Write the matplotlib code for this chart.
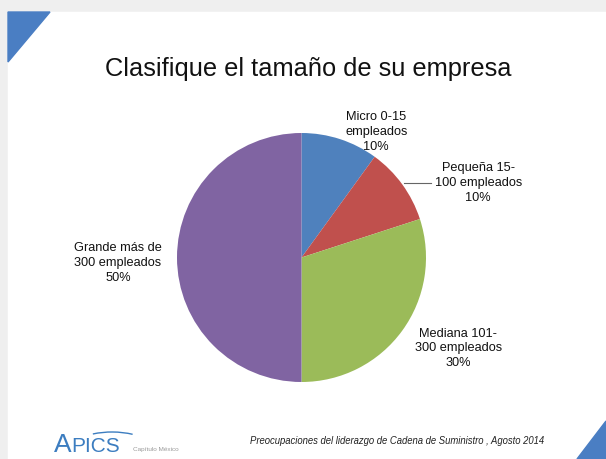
import numpy as np
import matplotlib
matplotlib.use('Agg')
from matplotlib import pyplot as plt
from matplotlib.patches import Polygon, Rectangle, Arc

# Datos del gráfico
categorias = ['Micro 0-15\nempleados', 'Pequeña 15-\n100 empleados',
              'Mediana 101-\n300 empleados', 'Grande más de\n300 empleados']
porcentajes = [10, 10, 30, 50]
colores = ['#4F81BD', '#C0504D', '#9BBB59', '#8064A2']
titulo = 'Clasifique el tamaño de su empresa'
pie_pagina = 'Preocupaciones del liderazgo de Cadena de Suministro , Agosto 2014'

W, H = 606, 459
plt.rcParams['font.family'] = ['Liberation Sans', 'DejaVu Sans']

fig = plt.figure(figsize=(W / 100, H / 100), dpi=100)
fig.patch.set_facecolor('#efefef')

# Fondo de la diapositiva en coordenadas de píxel
bg = fig.add_axes([0, 0, 1, 1])
bg.set_xlim(0, W)
bg.set_ylim(H, 0)
bg.axis('off')
bg.add_patch(Rectangle((8, 12), W - 8, H - 12, color='white', zorder=0))
bg.add_patch(Polygon([(8, 12), (50, 12), (8, 62)], color='#4A7EC3', zorder=1))
bg.add_patch(Polygon([(577, H), (W, 421), (W, H)], color='#4A7EC3', zorder=1))

bg.text(308, 69, titulo, ha='center', va='center', fontsize=18.3, color='#111111')

# Logo APICS y pie de página
bg.text(54, 452, 'A', ha='left', va='baseline', fontsize=19, color='#3C7DC0')
bg.text(71.5, 452, 'PICS', ha='left', va='baseline', fontsize=15, color='#3C7DC0')
bg.add_patch(Arc((112, 470), 120, 76, theta1=242, theta2=300, color='#3C7DC0', lw=1.0))
bg.text(133, 451, 'Capítulo México', ha='left', va='baseline', fontsize=4.6, color='#9a9a9a')
bg.text(397, 441, pie_pagina, ha='center', va='center', fontsize=6.85,
        style='italic', color='#222222')

# Gráfico circular
cx, cy, r = 301.5, 257.5, 124.5
ax = fig.add_axes([(cx - r) / W, (H - cy - r) / H, 2 * r / W, 2 * r / H])
etiquetas = ['%s\n%d%%' % (c, p) for c, p in zip(categorias, porcentajes)]
wedges, textos = ax.pie(porcentajes, colors=colores, startangle=90, counterclock=False,
                        labels=etiquetas, radius=1,
                        textprops=dict(fontsize=9.2, color='#111111', linespacing=1.32),
                        wedgeprops=dict(linewidth=0))
ax.set_xlim(-1, 1)
ax.set_ylim(-1, 1)
ax.set_aspect('equal')
ax.axis('off')

# Posiciones de las etiquetas (en unidades del radio)
pos_etiquetas = [(0.60, 1.005), (1.42, 0.60), (1.26, -0.73), (-1.475, -0.045)]
for t, (x, y) in zip(textos, pos_etiquetas):
    t.set_position((x, y))
    t.set_ha('center')
    t.set_va('center')
    t.set_multialignment('center')

# Línea guía de "Pequeña"
y_guia = 0.60
x_borde = np.sqrt(1 - y_guia ** 2)
ax.plot([x_borde + 0.02, 1.04], [y_guia, y_guia], color='#666666', lw=0.8,
        clip_on=False)

fig.savefig('out.png', dpi=100, facecolor=fig.get_facecolor())
